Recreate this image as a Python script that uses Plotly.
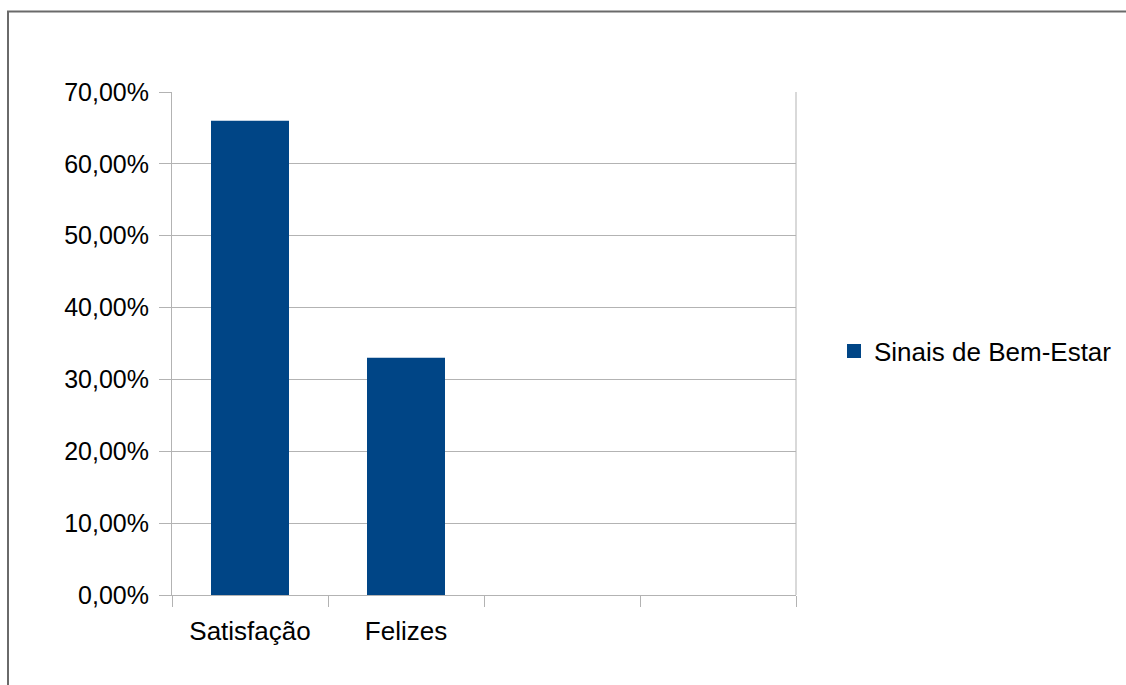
import plotly.graph_objects as go

# Category slots on the x axis (the last two are empty slots)
categories = ["Satisfação", "Felizes", " ", "  "]
values = [0.66, 0.33, None, None]
series_name = "Sinais de Bem-Estar"
y_ticks = [0, 0.1, 0.2, 0.3, 0.4, 0.5, 0.6, 0.7]

W, H = 1126, 685
L, R, T, B = 172, 330, 92, 90
pw, ph = W - L - R, H - T - B

def px_x(x):
    return (x - L) / pw

def px_y(y):
    return (H - B - y) / ph

FONT = "Liberation Sans, Arial, sans-serif"
GRID = "#b3b3b3"
BAR = "#004586"

fig = go.Figure()
fig.add_trace(go.Bar(
    x=categories, y=values, name=series_name,
    marker=dict(color=BAR, line=dict(width=0)),
    width=0.5, showlegend=False,
))
# legend entry with a larger square key
fig.add_trace(go.Scatter(
    x=[categories[0]], y=[None], name=series_name, mode="markers",
    marker=dict(symbol="square", size=14, color=BAR),
    showlegend=True, hoverinfo="skip",
))

fig.update_layout(
    width=W, height=H,
    margin=dict(l=L, r=R, t=T, b=B, autoexpand=False),
    paper_bgcolor="white", plot_bgcolor="white",
    separators=", ",
    font=dict(family=FONT, size=25, color="#000000"),
    showlegend=True,
    legend=dict(x=px_x(834), y=px_y(351), xanchor="left", yanchor="middle",
                font=dict(size=26), bgcolor="rgba(0,0,0,0)"),
    xaxis=dict(
        type="category", categoryorder="array", categoryarray=categories,
        range=[-0.5, 3.5], tickson="boundaries", ticks="outside", ticklen=11,
        tickcolor=GRID, tickwidth=1, showgrid=False, showline=True,
        linecolor=GRID, linewidth=1, mirror=False, zeroline=False,
        tickfont=dict(size=26), ticklabelstandoff=13, automargin=False,
    ),
    yaxis=dict(
        range=[0, 0.7], tickvals=y_ticks, tickformat=".2%",
        ticks="outside", ticklen=12, tickcolor=GRID, showgrid=True,
        gridcolor=GRID, gridwidth=1, showline=True, linecolor=GRID,
        linewidth=1, zeroline=False, tickfont=dict(size=25),
        ticklabelstandoff=5, automargin=False,
    ),
    shapes=[
        # right edge of the plot area
        dict(type="line", xref="paper", yref="paper", x0=1, x1=1, y0=0, y1=1,
             line=dict(color=GRID, width=1)),
        # outer frame around the whole chart
        dict(type="rect", xref="paper", yref="paper",
             x0=px_x(8), x1=px_x(W + 10), y0=px_y(H + 10), y1=px_y(11.5),
             line=dict(color="#6a6a6a", width=2), fillcolor="rgba(0,0,0,0)"),
    ],
)

fig.write_html("out.html")
